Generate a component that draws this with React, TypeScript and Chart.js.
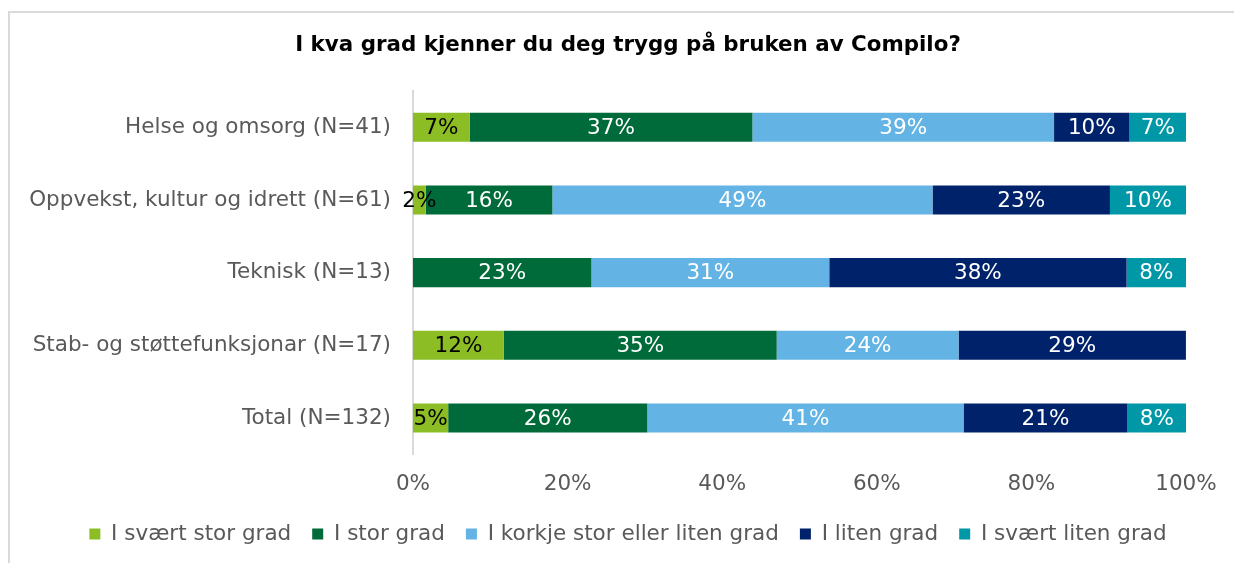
import React, { useEffect, useRef } from "react";
import { Chart, registerables } from "chart.js";

Chart.register(...registerables);

const categories = [
  "Helse og omsorg (N=41)",
  "Oppvekst, kultur og idrett (N=61)",
  "Teknisk (N=13)",
  "Stab- og støttefunksjonar (N=17)",
  "Total (N=132)",
];
const seriesNames = [
  "I svært stor grad",
  "I stor grad",
  "I korkje stor eller liten grad",
  "I liten grad",
  "I svært liten grad",
];
const svaertStorGrad = [7.32, 1.64, 0, 11.76, 4.55];
const storGrad = [36.59, 16.39, 23.08, 35.29, 25.76];
const korkjeGrad = [39.02, 49.18, 30.77, 23.53, 40.91];
const litenGrad = [9.76, 22.95, 38.46, 29.41, 21.21];
const svaertLitenGrad = [7.32, 9.84, 7.69, 0, 7.58];
const xTickValues = [0, 20, 40, 60, 80, 100];

const seriesValues = [svaertStorGrad, storGrad, korkjeGrad, litenGrad, svaertLitenGrad];
const colors = ["#8cbd24", "#006b3a", "#63b4e4", "#00226a", "#0098a6"];
const labelColors = ["#000000", "#ffffff", "#ffffff", "#ffffff", "#ffffff"];

const FONT = '"DejaVu Sans", Verdana, sans-serif';
const FS = 21.5;

const barLabels = {
  id: "barLabels",
  afterDatasetsDraw(chart: any) {
    const ctx = chart.ctx;
    ctx.save();
    ctx.font = `${FS}px ${FONT}`;
    ctx.textAlign = "center";
    ctx.textBaseline = "middle";
    chart.data.datasets.forEach((ds: any, di: number) => {
      const meta = chart.getDatasetMeta(di);
      meta.data.forEach((el: any, i: number) => {
        const v = ds.data[i];
        if (!v) return;
        const p = el.getProps(["x", "y", "base"], true);
        ctx.fillStyle = labelColors[di];
        ctx.fillText(Math.round(v) + "%", (p.x + p.base) / 2, p.y + 1);
      });
    });
    ctx.restore();
  },
};

export default function App() {
  const ref = useRef<HTMLCanvasElement>(null);
  useEffect(() => {
    if (!ref.current) return;
    Chart.defaults.font.family = FONT;
    const chart = new Chart(ref.current, {
      type: "bar",
      data: {
        labels: categories,
        datasets: seriesNames.map((name, i) => ({
          label: name,
          data: seriesValues[i],
          backgroundColor: colors[i],
          borderWidth: 0,
          categoryPercentage: 1,
          barPercentage: 0.4,
          yAxisID: "y",
        })),
      },
      options: {
        indexAxis: "y",
        responsive: false,
        animation: false,
        layout: { padding: { left: 0, right: 0, top: 0, bottom: 8.25 } },
        scales: {
          y: {
            stacked: true,
            position: "left",
            afterFit: (s: any) => {
              s.width = 404;
            },
            grid: { display: false, drawTicks: false },
            border: { display: true, color: "#d9d9d9", width: 2 },
            ticks: { padding: 22, color: "#595959", font: { size: FS } },
          },
          x: {
            stacked: true,
            min: 0,
            max: 100,
            afterFit: (s: any) => {
              s.height = 48;
            },
            afterBuildTicks: (s: any) => {
              s.ticks = xTickValues.map((v) => ({ value: v }));
            },
            grid: { display: false, drawTicks: false },
            border: { display: false },
            ticks: {
              padding: 17,
              color: "#595959",
              font: { size: FS },
              callback: (v: any) => v + "%",
            },
          },
          yRight: {
            type: "category",
            position: "right",
            labels: categories,
            afterFit: (s: any) => {
              s.width = 61;
            },
            grid: { display: false, drawTicks: false },
            border: { display: false },
            ticks: { display: false },
          },
        },
        plugins: {
          title: {
            display: true,
            text: "I kva grad kjenner du deg trygg på bruken av Compilo?",
            color: "#000000",
            font: { size: 21.4, weight: "bold" },
            padding: { top: 32.65, bottom: 32.65 },
          },
          legend: {
            position: "bottom",
            labels: {
              boxWidth: 11,
              boxHeight: 11,
              padding: 21,
              color: "#595959",
              font: { size: FS },
            },
          },
          tooltip: { enabled: false },
        },
      },
      plugins: [barLabels],
    } as any);
    return () => chart.destroy();
  }, []);

  return (
    <div
      style={{
        position: "fixed",
        left: 0,
        top: 0,
        width: 1234,
        height: 563,
        overflow: "hidden",
        background: "#ffffff",
      }}
    >
      <div
        style={{
          position: "absolute",
          left: 8,
          top: 11,
          width: 1400,
          height: 700,
          borderLeft: "2px solid #d9d9d9",
          borderTop: "2px solid #d9d9d9",
        }}
      />
      <canvas
        ref={ref}
        width={1238}
        height={563}
        style={{ position: "absolute", left: 9, top: 0, display: "block" }}
      />
    </div>
  );
}
